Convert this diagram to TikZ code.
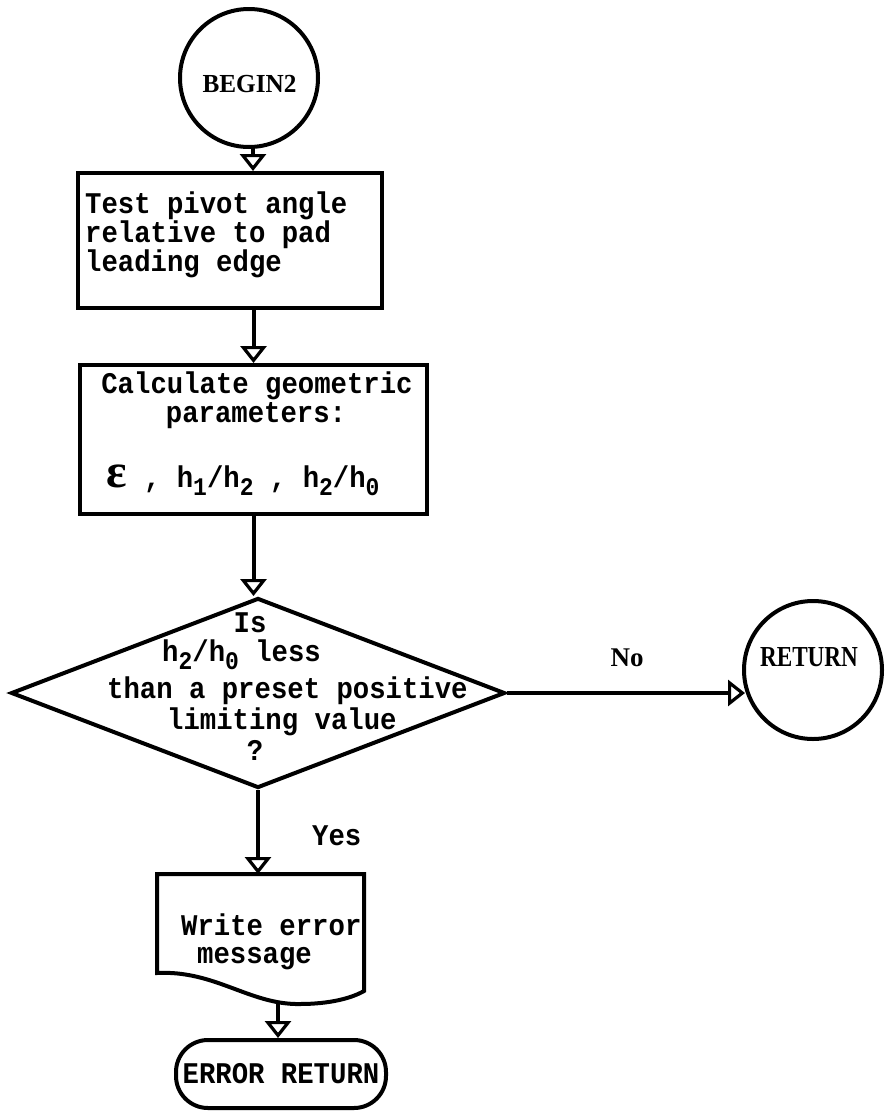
\documentclass[tikz,border=0pt]{standalone}
\usepackage{fontspec}
\usepackage{graphicx}
\setmainfont{Liberation Serif}
\newfontfamily\ttf{Liberation Mono}
\newfontfamily\epsf{Liberation Serif}
\usetikzlibrary{arrows.meta,shapes.geometric}
\newcommand\sbs[1]{\raisebox{-0.28em}{\fontsize{23}{23}\selectfont #1}}
\newcommand\T[1]{\scalebox{1}[1.1]{#1}}
\tikzset{
  ln/.style={line width=4pt},
  conn/.style={ln, -{Triangle[open, length=17pt, width=26pt, line width=3.2pt]}},
  shp/.style={draw, ln, inner sep=0pt},
  tw/.style={font=\ttf\bfseries\fontsize{27.3}{29}\selectfont, inner sep=0pt},
  lbl/.style={font=\bfseries, inner sep=0pt},
}
\begin{document}
\begin{tikzpicture}[x=1pt,y=-1pt]
\useasboundingbox (0,0) rectangle (884,1111);

% BEGIN2 circle
\node[shp, circle, minimum size=138pt] (begin) at (249,78) {};
\node[lbl, anchor=base] (begintx) at (249.5,92) {\fontsize{26}{26}\selectfont\scalebox{0.97}[1]{BEGIN2}};

% box 1
\node[shp, rectangle, minimum width=304pt, minimum height=135pt] (box1) at (230,240.5) {};
\node[tw, anchor=base west] (b1a) at (85,213) {\T{Test pivot angle}};
\node[tw, anchor=base west] (b1b) at (85,242) {\T{relative to pad}};
\node[tw, anchor=base west] (b1c) at (85,271) {\T{leading edge}};

% box 2
\node[shp, rectangle, minimum width=347pt, minimum height=149pt] (box2) at (253.5,439.5) {};
\node[tw, anchor=base] (b2a) at (257,393) {\T{Calculate geometric}};
\node[tw, anchor=base] (b2b) at (256,422) {\T{parameters:}};
\node[tw, anchor=base west] (b2c) at (106,487) {{\epsf\bfseries\fontsize{48}{48}\selectfont ε}\hspace{1pt}\T{ , h\sbs{1}/h\sbs{2} , h\sbs{2}/h\sbs{0}}};

% decision
\node[shp, diamond, minimum width=494pt, minimum height=190pt] (dia) at (258,693) {};
\node[tw, anchor=base] (d1) at (250,632) {\T{Is}};
\node[tw, anchor=base west] (d2) at (162,661) {\T{h\sbs{2}/h\sbs{0} less}};
\node[tw, anchor=base west] (d3) at (107,698) {\T{than a preset positive}};
\node[tw, anchor=base west] (d4) at (167,729) {\T{limiting value}};
\node[tw, anchor=base] (d5) at (255,760) {\T{?}};

% RETURN circle
\node[shp, circle, minimum size=138pt] (ret) at (813,670) {};
\node[lbl, anchor=base] (rettx) at (809,666) {\fontsize{29}{29}\selectfont\scalebox{0.8}[1]{RETURN}};
\node[lbl, anchor=base] (no) at (627,666) {\fontsize{27}{27}\selectfont No};
\node[tw, anchor=base west] (yes) at (312,845) {\T{Yes}};

% document shape
\coordinate (doctop) at (257,874);
\coordinate (docbot) at (278,1001);
\draw[ln, line join=miter] (157,874) -- (364,874) -- (364,991)
  .. controls (352,998) and (330,1004) .. (300,1004)
  .. controls (250,1005) and (215,970) .. (157,973) -- cycle;
\node[tw, anchor=base west] (w1) at (181,935) {\T{Write error}};
\node[tw, anchor=base west] (w2) at (197,963) {\T{message}};

% terminal
\node[shp, rectangle, rounded corners=32pt, minimum width=210pt, minimum height=68pt, tw] (term) at (281,1074) {\T{ERROR RETURN}};

% connectors
\draw[conn] ([xshift=4pt]begin.south) -- ([xshift=4pt]begin.south |- box1.north);
\draw[conn] (box2.north |- box1.south) -- (box2.north);
\draw[conn] (box2.south) -- (box2.south |- dia.north);
\draw[conn] (dia.east) -- ([xshift=3pt]dia.east -| ret.west);
\draw[conn] (dia.south) -- (dia.south |- doctop);
\draw[conn] (docbot) -- (docbot |- term.north);
\end{tikzpicture}
\end{document}
